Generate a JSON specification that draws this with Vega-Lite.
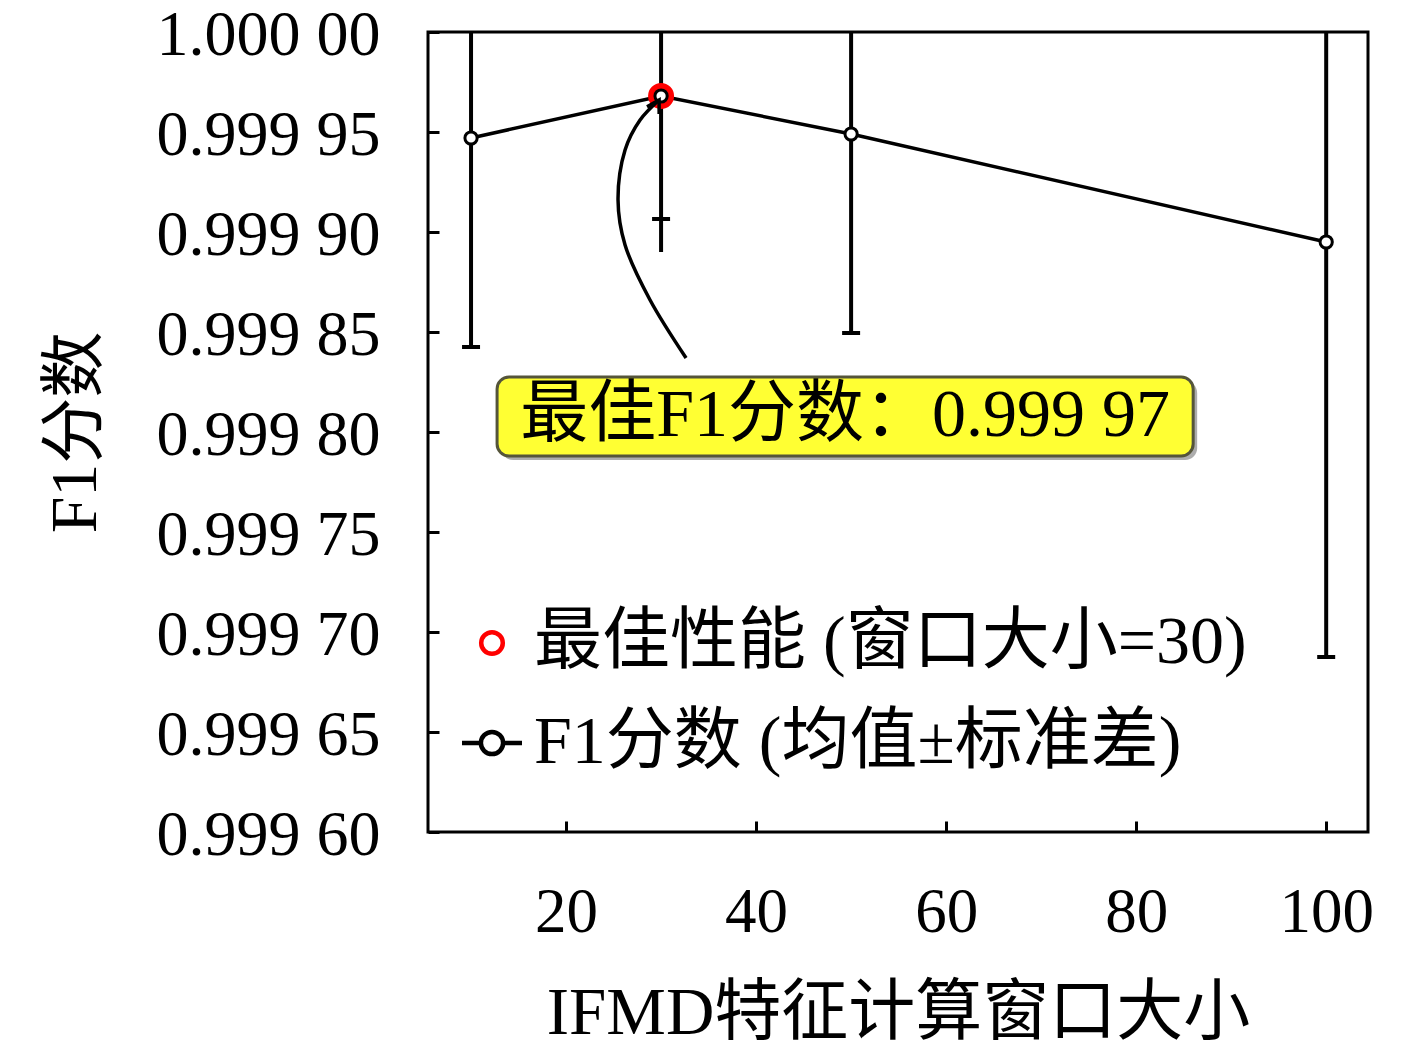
{
  "$schema": "https://vega.github.io/schema/vega-lite/v6.json",
  "width": 940,
  "height": 800,
  "autosize": {"type": "none"},
  "padding": {"left": 428, "top": 32, "right": 49, "bottom": 218},
  "background": "white",
  "config": {
    "view": {"stroke": "black", "strokeWidth": 3},
    "font": "Liberation Serif",
    "axis": {
      "grid": false,
      "domain": false,
      "labelFont": "Liberation Serif, Noto Sans CJK SC",
      "titleFont": "Liberation Serif, Noto Sans CJK SC",
      "labelFontSize": 63,
      "titleFontSize": 67,
      "labelColor": "black",
      "titleColor": "black",
      "titleFontWeight": "normal",
      "tickColor": "black",
      "tickWidth": 3,
      "labelLimit": 500
    }
  },
  "datasets": {
    "f1": [
      {"window": 10, "mean": 0.999947, "lower": 0.9998425, "ruleLow": 0.9998425, "upper": 1.000052},
      {"window": 30, "mean": 0.999968, "lower": 0.9999065, "ruleLow": 0.99989, "upper": 1.00003},
      {"window": 50, "mean": 0.999949, "lower": 0.9998495, "ruleLow": 0.9998495, "upper": 1.0000485},
      {"window": 100, "mean": 0.999895, "lower": 0.9996875, "ruleLow": 0.9996875, "upper": 1.0001025}
    ],
    "best": [
      {"window": 30, "mean": 0.999968}
    ],
    "legendItems": [
      {"series": "最佳性能 (窗口大小=30)"},
      {"series": "F1分数 (均值±标准差)"}
    ],
    "arrow": [
      {"i": 0, "x": 32.63, "y": 0.999837},
      {"i": 1, "x": 28.84, "y": 0.999866},
      {"i": 2, "x": 26.21, "y": 0.9998935},
      {"i": 3, "x": 25.47, "y": 0.999916},
      {"i": 4, "x": 26.21, "y": 0.999941},
      {"i": 5, "x": 27.79, "y": 0.999956},
      {"i": 6, "x": 29.79, "y": 0.999966}
    ],
    "tip": [{"x": 29.79, "y": 0.999966}],
    "note": [{"x": 12.74, "x2": 86.0, "y": 0.9998275, "y2": 0.999788, "sx": 13.16, "sx2": 86.42, "sy": 0.9998255, "sy2": 0.999786, "cx": 49.37, "cy": 0.9998078, "text": "最佳F1分数：0.999 97"}]
  },
  "layer": [
    {
      "data": {"name": "f1"},
      "mark": {"type": "rule", "color": "black", "strokeWidth": 4, "clip": true},
      "encoding": {
        "x": {"field": "window", "type": "quantitative",
          "scale": {"domain": [5.47, 104.4], "nice": false, "zero": false},
          "axis": {"values": [20, 40, 60, 80, 100], "tickSize": -11, "labelPadding": 60, "labelBaseline": "top", "title": "IFMD特征计算窗口大小", "titlePadding": 36}},
        "y": {"field": "ruleLow", "type": "quantitative",
          "scale": {"domain": [0.9996, 1.0], "nice": false, "zero": false},
          "axis": {"values": [0.9996, 0.99965, 0.9997, 0.99975, 0.9998, 0.99985, 0.9999, 0.99995, 1.0],
            "labelExpr": "slice(format(datum.value, '.5f'), 0, 5) + ' ' + slice(format(datum.value, '.5f'), 5)",
            "labelFontSize": 64, "labelOffset": 3,
            "tickSize": -11, "labelPadding": 59, "title": "F1分数", "titleFontSize": 66,
            "titleX": -353, "titleY": 400, "titleAngle": -90, "titleBaseline": "middle", "titleAlign": "center"}},
        "y2": {"field": "upper"}
      }
    },
    {
      "data": {"name": "f1"},
      "mark": {"type": "tick", "color": "black", "orient": "horizontal", "size": 18, "thickness": 4, "clip": true, "opacity": 1},
      "encoding": {
        "x": {"field": "window", "type": "quantitative"},
        "y": {"field": "lower", "type": "quantitative"}
      }
    },
    {
      "data": {"name": "f1"},
      "mark": {"type": "line", "color": "black", "strokeWidth": 3.5},
      "encoding": {
        "x": {"field": "window", "type": "quantitative"},
        "y": {"field": "mean", "type": "quantitative"}
      }
    },
    {
      "data": {"name": "best"},
      "mark": {"type": "point", "shape": "circle", "filled": false, "size": 400, "strokeWidth": 6, "opacity": 1, "color": "#ff0000"},
      "encoding": {
        "x": {"field": "window", "type": "quantitative"},
        "y": {"field": "mean", "type": "quantitative"}
      }
    },
    {
      "data": {"name": "f1"},
      "mark": {"type": "point", "shape": "circle", "filled": false, "fill": "white", "fillOpacity": 1, "opacity": 1, "size": 150, "strokeWidth": 3, "color": "black"},
      "encoding": {
        "x": {"field": "window", "type": "quantitative"},
        "y": {"field": "mean", "type": "quantitative"}
      }
    },
    {
      "data": {"name": "legendItems"},
      "mark": {"type": "point", "filled": false, "opacity": 1, "strokeWidth": 4.5, "fill": "white"},
      "encoding": {
        "x": {"field": "px", "type": "quantitative"},
        "y": {"field": "py", "type": "quantitative"},
        "stroke": {"field": "series", "type": "nominal",
          "scale": {"domain": ["最佳性能 (窗口大小=30)", "F1分数 (均值±标准差)"], "range": ["#ff0000", "black"]},
          "legend": {
            "title": null, "orient": "none", "legendX": 30, "legendY": 577, "padding": 0,
            "symbolSize": 3600, "symbolStrokeWidth": 4.5, "symbolFillColor": "white", "symbolOpacity": 1,
            "labelFont": "Liberation Serif, Noto Sans CJK SC", "labelFontSize": 68, "labelColor": "black",
            "labelOffset": 8, "rowPadding": 32, "labelLimit": 900
          }},
        "shape": {"field": "series", "type": "nominal",
          "scale": {"domain": ["最佳性能 (窗口大小=30)", "F1分数 (均值±标准差)"],
            "range": ["M0.36,0A0.36,0.36 0 1,1 -0.36,0A0.36,0.36 0 1,1 0.36,0Z", "M-1,0L-0.37,0M0.37,0L1,0M0.37,0A0.37,0.37 0 1,1 -0.37,0A0.37,0.37 0 1,1 0.37,0Z"]},
          "legend": {
            "title": null, "orient": "none", "legendX": 30, "legendY": 577, "padding": 0,
            "symbolSize": 3600, "symbolStrokeWidth": 4.5, "symbolFillColor": "white", "symbolOpacity": 1,
            "labelFont": "Liberation Serif, Noto Sans CJK SC", "labelFontSize": 68, "labelColor": "black",
            "labelOffset": 8, "rowPadding": 32, "labelLimit": 900
          }}
      }
    },
    {
      "data": {"name": "arrow"},
      "mark": {"type": "line", "color": "black", "strokeWidth": 3.5, "interpolate": "catmull-rom"},
      "encoding": {
        "x": {"field": "x", "type": "quantitative"},
        "y": {"field": "y", "type": "quantitative"},
        "order": {"field": "i", "type": "quantitative"}
      }
    },
    {
      "data": {"name": "tip"},
      "mark": {"type": "point", "shape": "M-0.7,1.2L0,0L0.7,1.2", "filled": false, "color": "black", "strokeWidth": 3.5, "size": 400, "angle": 30, "opacity": 1},
      "encoding": {
        "x": {"field": "x", "type": "quantitative"},
        "y": {"field": "y", "type": "quantitative"}
      }
    },
    {
      "data": {"name": "note"},
      "mark": {"type": "rect", "fill": "#8a8a8a", "opacity": 0.7, "cornerRadius": 12},
      "encoding": {
        "x": {"field": "sx", "type": "quantitative"},
        "x2": {"field": "sx2"},
        "y": {"field": "sy", "type": "quantitative"},
        "y2": {"field": "sy2"}
      }
    },
    {
      "data": {"name": "note"},
      "mark": {"type": "rect", "fill": "#ffff33", "stroke": "#55553a", "strokeWidth": 3, "cornerRadius": 12},
      "encoding": {
        "x": {"field": "x", "type": "quantitative"},
        "x2": {"field": "x2"},
        "y": {"field": "y", "type": "quantitative"},
        "y2": {"field": "y2"}
      }
    },
    {
      "data": {"name": "note"},
      "mark": {"type": "text", "font": "Liberation Serif, Noto Sans CJK SC", "fontSize": 68, "color": "black", "align": "center", "baseline": "middle"},
      "encoding": {
        "x": {"field": "cx", "type": "quantitative"},
        "y": {"field": "cy", "type": "quantitative"},
        "text": {"field": "text"}
      }
    }
  ]
}
